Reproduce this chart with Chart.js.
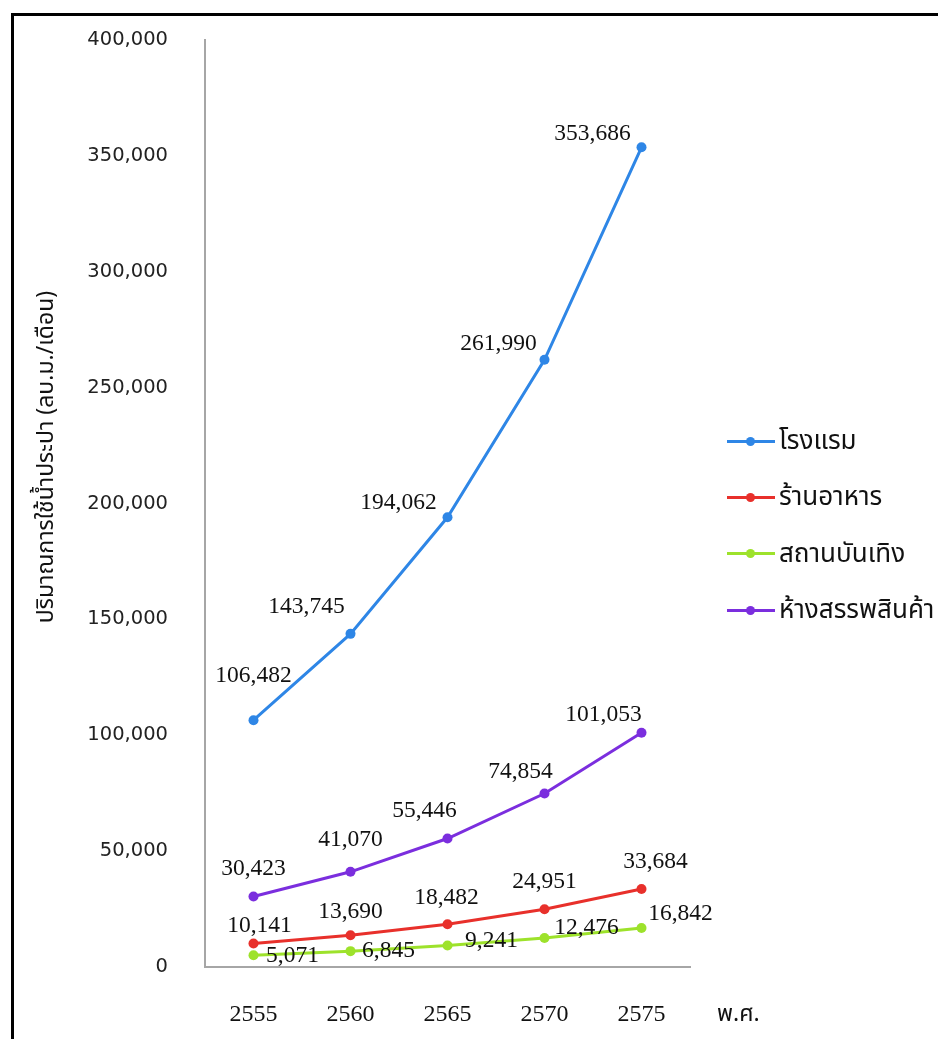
<!DOCTYPE html>
<html>
<head>
<meta charset="utf-8">
<script src="https://cdn.jsdelivr.net/npm/chart.js@4.4.1/dist/chart.umd.min.js"></script>
<style>
  html,body{margin:0;padding:0;background:#fff;width:938px;height:1039px;overflow:hidden;}
  #frame{position:absolute;left:11px;top:13px;width:1000px;height:1100px;border:3px solid #000;box-sizing:border-box;}
  #wrap{position:absolute;left:0;top:0;width:938px;height:1039px;}
  #ytitle{position:absolute;left:46px;top:457px;transform:translate(-50%,-50%) rotate(-90deg);white-space:nowrap;
    font-family:Tahoma,'Noto Sans Thai','Loma','Garuda','DejaVu Sans',sans-serif;font-size:23px;color:#111;}
  #xunit{position:absolute;left:717px;top:997px;font-family:Tahoma,'Noto Sans Thai','Loma','DejaVu Sans',sans-serif;font-size:23px;color:#111;}
  #legend{position:absolute;left:727px;top:413px;font-family:Tahoma,'Noto Sans Thai','Loma','Garuda','DejaVu Sans',sans-serif;font-size:26px;color:#111;}
  .li{height:56.3px;display:flex;align-items:center;position:relative;}
  .mk{position:relative;width:48px;height:3px;margin-right:4px;}
  .mk i{position:absolute;left:19px;top:-3px;width:9px;height:9px;border-radius:50%;}
</style>
</head>
<body>
<div id="wrap"><canvas id="c" width="938" height="1039"></canvas></div>
<div id="frame"></div>
<div id="ytitle">ปริมาณการใช้น้ำประปา (ลบ.ม./เดือน)</div>
<div id="xunit">พ.ศ.</div>
<div id="legend"></div>
<script>
const categories = ['2555','2560','2565','2570','2575'];
const seriesNames = ['โรงแรม','ร้านอาหาร','สถานบันเทิง','ห้างสรรพสินค้า'];
const hotel = [106482, 143745, 194062, 261990, 353686];
const restaurant = [10141, 13690, 18482, 24951, 33684];
const entertainment = [5071, 6845, 9241, 12476, 16842];
const mall = [30423, 41070, 55446, 74854, 101053];
const yTicks = [0, 50000, 100000, 150000, 200000, 250000, 300000, 350000, 400000];

const colors = ['#2E86E6','#E8302B','#9DE22B','#7B2EDE'];
// label offsets (dx, dy) in pixels relative to each point
const labelOffsets = [
  [[0,-44],[-44,-27],[-49,-14],[-46,-16],[-49,-14]],
  [[6,-18],[0,-23],[-1,-26],[0,-27],[14,-27]],
  [[39,1],[38,0],[44,-5],[42,-10],[39,-14]],
  [[0,-28],[0,-32],[-23,-28],[-24,-22],[-38,-18]]
];

const seriesData = [hotel, restaurant, entertainment, mall];

const labelPlugin = {
  id:'valueLabels',
  afterDatasetsDraw(chart){
    const ctx = chart.ctx;
    ctx.save();
    ctx.font = '23.5px "Liberation Serif", "Times New Roman", serif';
    ctx.fillStyle = '#111';
    ctx.textAlign = 'center';
    ctx.textBaseline = 'middle';
    chart.data.datasets.forEach((ds, di) => {
      const meta = chart.getDatasetMeta(di);
      meta.data.forEach((pt, i) => {
        const off = labelOffsets[di][i];
        ctx.fillText(ds.data[i].toLocaleString('en-US'), pt.x + off[0], pt.y + off[1]);
      });
    });
    ctx.restore();
  }
};

const chart = new Chart(document.getElementById('c'), {
  type:'line',
  data:{
    labels: categories,
    datasets: seriesNames.map((n, i) => ({
      label: n,
      data: seriesData[i],
      borderColor: colors[i],
      backgroundColor: colors[i],
      borderWidth: 3,
      pointRadius: 5,
      pointBorderWidth: 0,
      pointBackgroundColor: colors[i],
      tension: 0,
      fill: false
    }))
  },
  options:{
    responsive:false,
    animation:false,
    events:[],
    layout:{padding:{left:0, right:248, top:40, bottom:0}},
    plugins:{legend:{display:false}, tooltip:{enabled:false}},
    scales:{
      x:{
        offset:true,
        grid:{display:false, drawTicks:false},
        border:{display:true, color:'#A6A6A6', width:2},
        ticks:{padding:33, color:'#111', font:{family:'"Liberation Serif", "Times New Roman", serif', size:24}},
        afterFit(s){ s.height = 72; }
      },
      y:{
        min:0, max:400000,
        grid:{display:false, drawTicks:false},
        border:{display:true, color:'#A6A6A6', width:2},
        afterBuildTicks(s){ s.ticks = yTicks.map(v => ({value:v})); },
        ticks:{padding:37, color:'#222', font:{family:'"DejaVu Sans", Verdana, sans-serif', size:19.5},
          callback:(v)=>Number(v).toLocaleString('en-US')},
        afterFit(s){ s.width = 205; s.paddingTop = 0; s.paddingBottom = 0; }
      }
    }
  },
  plugins:[labelPlugin]
});

const leg = document.getElementById('legend');
chart.data.datasets.forEach(ds => {
  const row = document.createElement('div'); row.className='li';
  const mk = document.createElement('span'); mk.className='mk'; mk.style.background = ds.borderColor;
  const dot = document.createElement('i'); dot.style.background = ds.borderColor; mk.appendChild(dot);
  const t = document.createElement('span'); t.textContent = ds.label;
  row.appendChild(mk); row.appendChild(t); leg.appendChild(row);
});
</script>
</body>
</html>
